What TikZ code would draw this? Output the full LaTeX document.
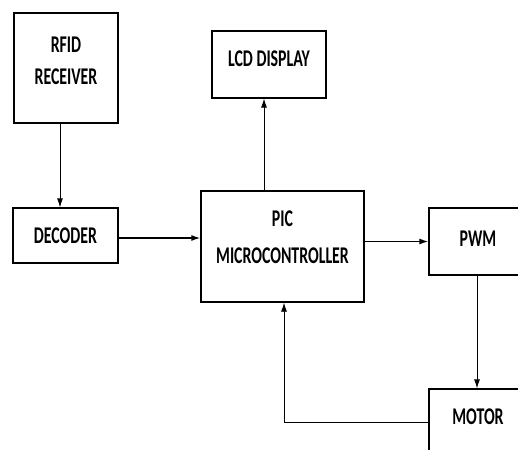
\documentclass[tikz,border=0pt]{standalone}
\usepackage{fontspec}
\setmainfont[FakeStretch=0.66]{Carlito}
\usetikzlibrary{arrows.meta}

\begin{document}
\begin{tikzpicture}[x=1pt, y=-1pt,
    block/.style={draw, line width=1.3pt, align=center,
        font=\bfseries\fontsize{24}{32}\selectfont},
    lift/.style={text depth=#1},
    link/.style={-{Latex[length=9pt, width=6pt]}, line width=0.8pt}]
\useasboundingbox (0,0) rectangle (518,449);
\node [block, lift=14pt, minimum width=104pt, minimum height=110pt] (rfid) at (66,68)
    {RFID\\RECEIVER};
\node [block, minimum width=105pt, minimum height=55pt] (dec) at (65.5,235.5)
    {DECODER};
\node [block, lift=12pt, minimum width=114pt, minimum height=67pt] (lcd) at (269,64.5)
    {LCD DISPLAY};
\node [block, lift=18pt, minimum width=163pt, minimum height=111pt] (pic) at (282.5,246.5)
    {PIC\\[5pt]MICROCONTROLLER};
\node [block, lift=6pt, minimum width=98pt, minimum height=67pt] (pwm) at (478,241.5)
    {PWM};
\node [block, lift=10pt, minimum width=98pt, minimum height=66pt] (motor) at (478,422)
    {MOTOR};
\draw [link] ([xshift=-6]rfid.south) -- ([xshift=-6]rfid.south |- dec.north);
\draw [link, line width=1.4pt] ([yshift=-2.5]dec.east) -- ([yshift=-2.5]dec.east -| pic.west);
\draw [link] ([xshift=-5]lcd.south |- pic.north) -- ([xshift=-5]lcd.south);
\draw [link, line width=1.4pt] (pwm.west -| pic.east) -- (pwm.west);
\draw [link] ([xshift=-1]pwm.south) -- ([xshift=-1]pwm.south |- motor.north);
\draw [link] (motor.west) -| ([xshift=1.5]pic.south);
\end{tikzpicture}
\end{document}
